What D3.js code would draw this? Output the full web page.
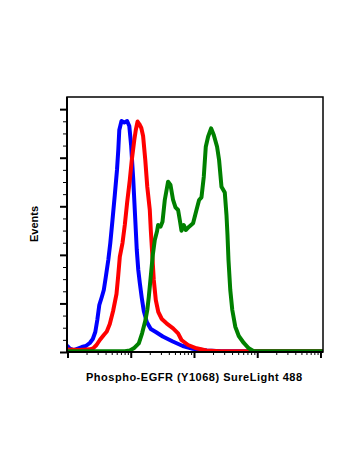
<!DOCTYPE html>
<html>
<head>
<meta charset="utf-8">
<script src="https://cdn.jsdelivr.net/npm/d3@7"></script>
<style>
  html, body { margin: 0; padding: 0; background: #fff; }
  svg { display: block; }
  .lbl { font-family: "Liberation Sans", Arial, sans-serif; font-weight: bold; fill: #000; }
</style>
</head>
<body>
<div id="chart"></div>
<script>
// Fluorescence intensity (log scale) and event counts for each histogram
const blueX = [1, 1.087, 1.258, 1.455, 1.683, 1.947, 2.252, 2.512, 2.751, 2.959, 3.183, 3.485, 3.749, 4.032, 4.417, 4.75, 5.146, 5.596, 6.062, 6.356, 6.592, 7.142, 7.907, 8.756, 9.486, 10.13, 10.97, 11.8, 12.46, 13.16, 13.91, 14.95, 16.08, 17.94, 20.75, 24.89, 32.12, 46.22, 66.53, 95.72, 159.4, 275.1, 10965];
const blueY = [2.47, 1.44, 0.82, 1.44, 2.06, 2.47, 3.71, 5.35, 8.24, 13.18, 19.35, 22.65, 25.53, 30.88, 37.88, 44.88, 54.35, 64.65, 74.94, 83.18, 91.41, 95.12, 94.5, 95.12, 93.06, 85.24, 70.82, 54.35, 42.0, 33.76, 28.41, 22.24, 16.88, 12.35, 9.47, 8.24, 6.38, 4.32, 2.47, 1.36, 0.62, 0.33, 0.33];

const redX = [1, 1.565, 2.252, 2.54, 2.874, 3.242, 3.749, 4.181, 4.664, 5.26, 5.952, 6.31, 6.713, 7.405, 8.054, 8.756, 9.661, 10.39, 11.38, 12.02, 12.83, 13.65, 14.69, 15.68, 16.98, 18.27, 20.01, 20.75, 21.92, 23.14, 24.89, 27.27, 30.97, 36.75, 46.72, 56.07, 63.44, 80.66, 109.5, 157.6, 255.8, 10965];
const redY = [1.03, 0.82, 1.11, 1.52, 2.88, 4.94, 7.0, 8.44, 11.53, 16.88, 23.88, 30.88, 39.12, 44.88, 52.29, 61.35, 70.82, 79.06, 87.29, 91.41, 94.91, 93.88, 92.24, 88.94, 79.06, 67.94, 58.47, 50.23, 39.94, 29.65, 21.41, 16.47, 13.59, 11.82, 9.76, 7.7, 4.94, 2.88, 1.52, 0.62, 0.33, 0.33];

const greenX = [1, 8.054, 9.661, 11.17, 13.41, 15.12, 17.11, 18.27, 19.29, 20.98, 22.32, 24.0, 26.1, 27.06, 29.53, 31.77, 34.54, 38.95, 42.52, 46.72, 51.0, 56.07, 59.64, 63.44, 68.99, 74.21, 83.66, 96.78, 109.5, 120.4, 131.4, 142.9, 153.7, 167.1, 186.4, 205.6, 231.8, 249.4, 272.2, 306.9, 326.5, 338.6, 351.2, 374.9, 403.3, 449.8, 510.9, 613.0, 735.2, 882.2, 10965];
const greenY = [0.33, 0.33, 0.62, 1.52, 3.58, 7.7, 13.18, 17.29, 22.65, 32.53, 39.94, 46.12, 49.82, 52.29, 51.59, 53.65, 62.59, 70.12, 68.76, 62.59, 59.58, 58.47, 54.35, 49.95, 52.29, 50.23, 51.59, 52.99, 58.47, 62.59, 63.7, 72.18, 84.53, 88.65, 92.11, 89.35, 84.53, 79.06, 68.06, 65.68, 56.41, 48.18, 37.88, 25.53, 17.29, 10.42, 6.59, 3.71, 1.52, 0.33, 0.33];

// Axis ticks (unlabelled)
const yMajorTicks = [0, 20, 40, 60, 80, 100];
const yMinorTicks = [5, 10, 15, 25, 30, 35, 45, 50, 55, 65, 70, 75, 85, 90, 95];
const xMajorTicks = [1, 10, 100, 1000, 10000];
const xMinorTicks = [1, 10, 100, 1000].flatMap(d => [2, 3, 4, 5, 6, 7, 8, 9].map(k => k * d));

const seriesColors = ["#0000ff", "#ff0000", "#008000"];
const xTitle = "Phospho-EGFR (Y1068) SureLight 488";
const yTitle = "Events";

const W = 350, H = 467;
const plotL = 67, plotR = 323, plotT = 97, plotB = 352;

const svg = d3.select("#chart").append("svg").attr("width", W).attr("height", H);

const x = d3.scaleLog().domain([1, 10965]).range([plotL + 0.5, plotR]);
const y = d3.scaleLinear().domain([0, 105]).range([plotB, plotT]);

const series = [
  { xs: blueX, ys: blueY, color: seriesColors[0] },
  { xs: redX, ys: redY, color: seriesColors[1] },
  { xs: greenX, ys: greenY, color: seriesColors[2] }
];

const line = d3.line()
  .x(d => x(d[0]))
  .y(d => y(d[1]))
  .curve(d3.curveLinear);

svg.append("defs").append("clipPath").attr("id", "clip")
  .append("rect").attr("x", plotL).attr("y", plotT)
  .attr("width", plotR - plotL).attr("height", plotB - plotT);

svg.append("g").attr("clip-path", "url(#clip)")
  .selectAll("path")
  .data(series)
  .join("path")
  .attr("d", s => line(s.xs.map((v, i) => [v, s.ys[i]])))
  .attr("fill", "none")
  .attr("stroke", s => s.color)
  .attr("stroke-width", 4)
  .attr("stroke-linejoin", "round")
  .attr("stroke-linecap", "round");

// Frame
svg.append("rect")
  .attr("x", plotL).attr("y", plotT)
  .attr("width", plotR - plotL).attr("height", plotB - plotT)
  .attr("fill", "none").attr("stroke", "#000").attr("stroke-width", 1.5);

// Left axis: major and minor ticks
const yAxisMajor = d3.axisLeft(y).tickValues(yMajorTicks).tickSize(7).tickSizeOuter(0).tickFormat("");
const yAxisMinor = d3.axisLeft(y).tickValues(yMinorTicks).tickSize(4).tickSizeOuter(0).tickFormat("");
const gyMin = svg.append("g").attr("transform", `translate(${plotL},0)`).call(yAxisMinor);
gyMin.select(".domain").remove();
gyMin.selectAll("line").attr("stroke-width", 1);
const gyMaj = svg.append("g").attr("transform", `translate(${plotL},0)`).call(yAxisMajor);
gyMaj.select(".domain").remove();
gyMaj.selectAll("line").attr("stroke-width", 2);

// Bottom axis: decades and sub-decade ticks
const xAxisMajor = d3.axisBottom(x).tickValues(xMajorTicks).tickSize(6).tickSizeOuter(0).tickFormat("");
const xAxisMinor = d3.axisBottom(x).tickValues(xMinorTicks).tickSize(3).tickSizeOuter(0).tickFormat("");
const gxMin = svg.append("g").attr("transform", `translate(0,${plotB})`).call(xAxisMinor);
gxMin.select(".domain").remove();
gxMin.selectAll("line").attr("stroke-width", 1);
const gxMaj = svg.append("g").attr("transform", `translate(0,${plotB})`).call(xAxisMajor);
gxMaj.select(".domain").remove();
gxMaj.selectAll("line").attr("stroke-width", 2);

// Heavier axis lines
svg.append("line").attr("x1", plotL).attr("x2", plotR).attr("y1", plotB).attr("y2", plotB)
  .attr("stroke", "#000").attr("stroke-width", 2);
svg.append("line").attr("x1", plotL).attr("x2", plotL).attr("y1", plotT).attr("y2", plotB)
  .attr("stroke", "#000").attr("stroke-width", 2);

// Titles
svg.append("text").attr("class", "lbl")
  .attr("x", 194).attr("y", 381)
  .attr("text-anchor", "middle")
  .style("font-size", "11px")
  .attr("textLength", 216).attr("lengthAdjust", "spacing")
  .text(xTitle);

svg.append("text").attr("class", "lbl")
  .attr("transform", "translate(38,224) rotate(-90)")
  .attr("text-anchor", "middle")
  .style("font-size", "11px")
  .text(yTitle);
</script>
</body>
</html>
